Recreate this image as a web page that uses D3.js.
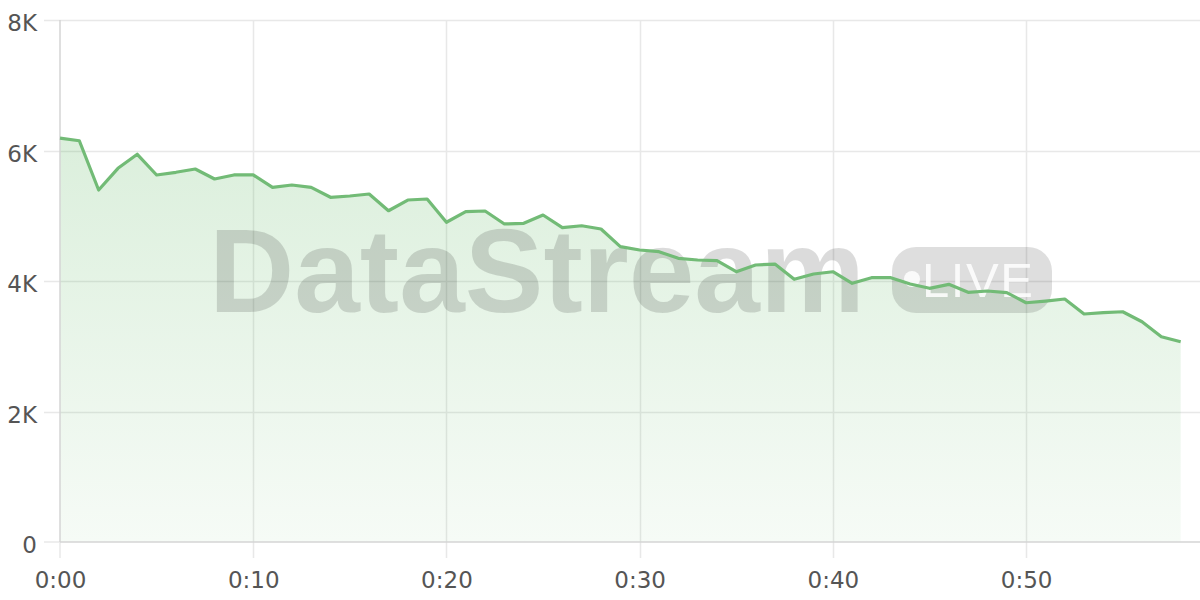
<!DOCTYPE html>
<html>
<head>
<meta charset="utf-8">
<script src="https://cdn.jsdelivr.net/npm/d3@7"></script>
<style>
html,body{margin:0;padding:0;background:#fff;}
svg{display:block;font-family:"DejaVu Sans",sans-serif;}
</style>
</head>
<body>
<svg id="chart" width="1200" height="600"></svg>
<script>
// Data: minutes since start and values
const minutes = d3.range(0, 59);
const values = [6190,6150,5395,5727,5942,5625,5666,5716,5563,5625,5625,5436,5471,5436,5283,5303,5333,5077,5241,5257,4900,5062,5073,4874,4884,5011,4817,4847,4797,4526,4475,4449,4348,4322,4311,4142,4245,4260,4026,4107,4142,3965,4051,4051,3954,3888,3949,3827,3847,3821,3667,3693,3724,3494,3514,3529,3376,3146,3069];
const yTicks = [0, 2000, 4000, 6000, 8000];
const yTickLabels = ["0", "2K", "4K", "6K", "8K"];
const xTicks = [0, 10, 20, 30, 40, 50];
const xTickLabels = ["0:00", "0:10", "0:20", "0:30", "0:40", "0:50"];
const watermarkText = "DataStream";
const badgeText = "LIVE";

(function () {
const data = minutes.map((m, i) => ({m, v: values[i]}));
const svg = d3.select("#chart");
const mLeft = 60, mRight = 1200, mTop = 20, mBottom = 542;
const x = d3.scaleLinear().domain([0, 59]).range([mLeft, mRight]);
const y = d3.scaleLinear().domain([0, 8000]).range([mBottom, mTop]);
const labelFont = "'DejaVu Sans',sans-serif";

const defs = svg.append("defs");
const grad = defs.append("linearGradient").attr("id", "areaGrad")
  .attr("x1", 0).attr("y1", 0).attr("x2", 0).attr("y2", 1);
grad.append("stop").attr("offset", "0%").attr("stop-color", "#4caf50").attr("stop-opacity", 0.2);
grad.append("stop").attr("offset", "100%").attr("stop-color", "#4caf50").attr("stop-opacity", 0.05);

// gridlines
const grid = svg.append("g");
grid.selectAll(".hg").data(yTicks.slice(1)).join("line")
  .attr("x1", 44).attr("x2", mRight)
  .attr("y1", d => Math.round(y(d)) + 0.5).attr("y2", d => Math.round(y(d)) + 0.5)
  .attr("stroke", "#e8e8e8").attr("stroke-width", 1.5);
grid.selectAll(".vg").data(xTicks.slice(1)).join("line")
  .attr("y1", mTop).attr("y2", mBottom + 16)
  .attr("x1", d => Math.round(x(d)) + 0.5).attr("x2", d => Math.round(x(d)) + 0.5)
  .attr("stroke", "#e8e8e8").attr("stroke-width", 1.5);
grid.append("line").attr("x1", 44).attr("x2", mLeft).attr("y1", y(0)).attr("y2", y(0))
  .attr("stroke", "#e8e8e8").attr("stroke-width", 1.5);
grid.append("line").attr("x1", x(0)).attr("x2", x(0)).attr("y1", mBottom).attr("y2", mBottom + 16)
  .attr("stroke", "#e8e8e8").attr("stroke-width", 1.5);

// area
const area = d3.area().x(d => x(d.m)).y0(y(0)).y1(d => y(d.v));
svg.append("path").datum(data).attr("d", area).attr("fill", "url(#areaGrad)");

// axis lines
svg.append("line").attr("x1", mLeft).attr("x2", mLeft).attr("y1", mTop).attr("y2", mBottom)
  .attr("stroke", "#d4d4d4").attr("stroke-width", 1.5);
svg.append("line").attr("x1", mLeft).attr("x2", mRight).attr("y1", mBottom).attr("y2", mBottom)
  .attr("stroke", "#d4d4d4").attr("stroke-width", 1.5);

// watermark
const wm = svg.append("g");
wm.append("text").attr("x", 209).attr("y", 312)
  .attr("font-family", "'Liberation Sans',Arial,sans-serif")
  .attr("font-weight", "bold").attr("font-size", 118)
  .attr("fill", "rgba(0,0,0,0.14)").text(watermarkText);
wm.append("rect").attr("x", 892).attr("y", 247).attr("width", 160).attr("height", 66)
  .attr("rx", 24).attr("fill", "rgba(0,0,0,0.13)");
wm.append("circle").attr("cx", 912).attr("cy", 279).attr("r", 8).attr("fill", "rgba(255,255,255,0.85)");
wm.append("text").attr("x", 922).attr("y", 297)
  .attr("font-family", "'Liberation Sans',Arial,sans-serif")
  .attr("font-size", 49).attr("textLength", 111)
  .attr("fill", "rgba(255,255,255,0.85)").text(badgeText);

// line
const line = d3.line().x(d => x(d.m)).y(d => y(d.v));
svg.append("path").datum(data).attr("d", line).attr("fill", "none")
  .attr("stroke", "#72bb76").attr("stroke-width", 3.2).attr("stroke-linejoin", "round");

// axes labels
const yAxis = d3.axisLeft(y).tickValues(yTicks).tickFormat((d, i) => yTickLabels[i]).tickSize(0).tickPadding(23);
const gy = svg.append("g").attr("transform", `translate(${mLeft},0)`).call(yAxis);
gy.select(".domain").remove();
gy.attr("font-size", null).attr("font-family", null);
gy.selectAll("text").style("font-size", "23px").attr("fill", "#555").style("font-family", labelFont).attr("dy", "0.47em");

const xAxis = d3.axisBottom(x).tickValues(xTicks).tickFormat((d, i) => xTickLabels[i]).tickSize(0).tickPadding(30);
const gx = svg.append("g").attr("transform", `translate(0,${mBottom})`).call(xAxis);
gx.select(".domain").remove();
gx.attr("font-size", null).attr("font-family", null);
gx.selectAll("text").style("font-size", "23px").attr("fill", "#555").style("font-family", labelFont);
})();
</script>
</body>
</html>
